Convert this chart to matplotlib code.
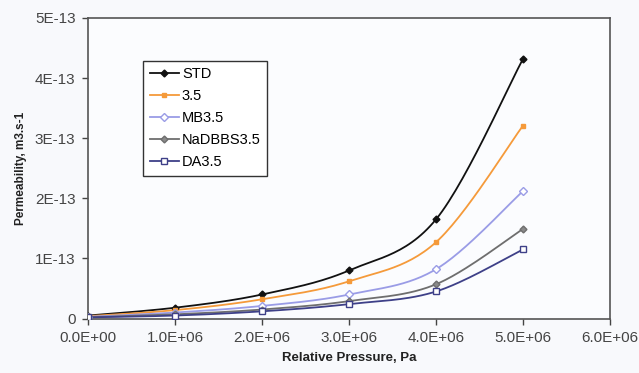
import matplotlib
matplotlib.use("Agg")
import matplotlib.pyplot as plt
from matplotlib.lines import Line2D
import numpy as np

plt.rcParams["font.family"] = ["Liberation Sans", "DejaVu Sans"]

pressure = [0, 1e6, 2e6, 3e6, 4e6, 5e6]
std = [0.05e-13, 0.18e-13, 0.40e-13, 0.80e-13, 1.65e-13, 4.32e-13]
s35 = [0.04e-13, 0.14e-13, 0.32e-13, 0.62e-13, 1.27e-13, 3.21e-13]
mb35 = [0.03e-13, 0.10e-13, 0.21e-13, 0.40e-13, 0.82e-13, 2.12e-13]
nadbbs35 = [0.02e-13, 0.07e-13, 0.15e-13, 0.29e-13, 0.57e-13, 1.49e-13]
da35 = [0.02e-13, 0.05e-13, 0.12e-13, 0.24e-13, 0.45e-13, 1.15e-13]

names = ["STD", "3.5", "MB3.5", "NaDBBS3.5", "DA3.5"]
series = [std, s35, mb35, nadbbs35, da35]
colors = ["#111111", "#F59A3A", "#9A9CE6", "#6E6E6E", "#3E4088"]
markers = ["D", "s", "D", "D", "s"]
faces = ["#111111", "#F59A3A", "white", "#8A8A8A", "white"]
msizes = [3.5, 3.5, 4, 3.5, 4]


def smooth(x, y, n=30):
    # excel style smoothed line: bezier through points, catmull-rom handles
    x = np.asarray(x, float)
    y = np.asarray(y, float)
    px = np.concatenate([[x[0]], x, [x[-1]]])
    py = np.concatenate([[y[0]], y, [y[-1]]])
    xs, ys = [], []
    t = np.linspace(0, 1, n)
    for i in range(1, len(x)):
        p0 = np.array([px[i], py[i]])
        p3 = np.array([px[i + 1], py[i + 1]])
        c1 = p0 + (np.array([px[i + 1], py[i + 1]]) - np.array([px[i - 1], py[i - 1]])) / 6
        c2 = p3 - (np.array([px[i + 2], py[i + 2]]) - np.array([px[i], py[i]])) / 6
        b = ((1 - t) ** 3)[:, None] * p0 + (3 * (1 - t) ** 2 * t)[:, None] * c1 \
            + (3 * (1 - t) * t ** 2)[:, None] * c2 + (t ** 3)[:, None] * p3
        xs.extend(b[:, 0])
        ys.extend(b[:, 1])
    return xs, ys


fig = plt.figure(figsize=(6.39, 3.73), dpi=100, facecolor="#F8F9FC")
ax = fig.add_axes([0.1377, 0.146, 0.817, 0.806])
ax.set_facecolor("#FBFCFE")

handles = []
for name, vals, c, m, fc, ms in zip(names, series, colors, markers, faces, msizes):
    sx, sy = smooth(pressure, vals)
    ax.plot(sx, sy, color=c, lw=1.3, zorder=2)
    ax.plot(pressure, vals, ls="none", marker=m, ms=ms, mfc=fc, mec=c, mew=1, zorder=3)
    handles.append(Line2D([], [], color=c, lw=1.3, marker=m, ms=ms, mfc=fc, mec=c, mew=1))

ax.set_xlim(0, 6e6)
ax.set_ylim(0, 5e-13)
ax.set_xticks(np.arange(0, 6.1e6, 1e6))
ax.set_xticklabels(["%.1E" % v for v in np.arange(0, 6.1e6, 1e6)])
ax.set_yticks(np.arange(0, 5.1e-13, 1e-13))
ax.set_yticklabels(["0", "1E-13", "2E-13", "3E-13", "4E-13", "5E-13"])
ax.tick_params(direction="out", length=4, width=1, colors="#444444", labelsize=11, pad=5)
for s in ax.spines.values():
    s.set_color("#555555")
    s.set_linewidth(1.2)

ax.set_xlabel("Relative Pressure, Pa", fontsize=9.5, fontweight="bold", color="#222222", labelpad=5)
ax.set_ylabel("Permeability, m3.s-1", fontsize=8.5, fontweight="bold", color="#222222", labelpad=6)

leg = ax.legend(handles, names, loc="upper left", bbox_to_anchor=(0.092, 0.882),
                fontsize=10.5, frameon=True, fancybox=False, framealpha=1,
                edgecolor="#333333", handlelength=2.0, handletextpad=0.2,
                labelspacing=0.55, borderpad=0.45)
leg.get_frame().set_linewidth(1.0)

fig.savefig("out.png", dpi=100, facecolor=fig.get_facecolor())
